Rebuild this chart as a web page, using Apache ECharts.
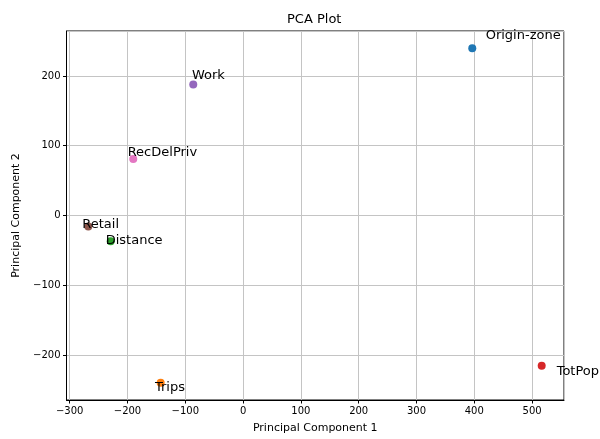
<!DOCTYPE html>
<html>
<head>
<meta charset="utf-8">
<script src="https://cdn.jsdelivr.net/npm/echarts@6/dist/echarts.min.js"></script>
<style>html,body{margin:0;padding:0;background:#fff;}#c{width:600px;height:439px;}</style>
</head>
<body>
<div id="c"></div>
<script>
const names = ['Origin-zone', 'Trips', 'Distance', 'TotPop', 'Work', 'Retail', 'RecDelPriv'];
const pc1 = [396.5, -142.6, -229, 516.6, -86.2, -267.8, -190];
const pc2 = [239.8, -239.5, -36.7, -215.4, 187.6, -15.8, 80.9];
const colors = ['#1f77b4', '#ff7f0e', '#2ca02c', '#d62728', '#9467bd', '#8c564b', '#e377c2'];
const labelOffsets = [[13.4, -6], [-5.7, 11.5], [-5, 6], [15, 12], [-1.3, -2.5], [-6, 5], [-5.6, 0.3]];

const FONT = 'DejaVu Sans';
const fmt = v => (v < 0 ? '\u2212' + Math.abs(v) : String(v));

const data = names.map((n, i) => ({
  name: n,
  value: [pc1[i], pc2[i]],
  itemStyle: { color: colors[i], opacity: 1 },
  label: { offset: labelOffsets[i] }
}));

const axisCommon = {
  type: 'value',
  nameLocation: 'middle',
  nameTextStyle: { fontFamily: FONT, fontSize: 11, color: '#000' },
  axisLine: { show: true, onZero: false, lineStyle: { color: '#000', width: 1 } },
  axisTick: { show: true, inside: false, length: 3.5, lineStyle: { color: '#000', width: 1 } },
  axisLabel: { fontFamily: FONT, fontSize: 10, color: '#000', margin: 6, showMinLabel: false, showMaxLabel: false, formatter: fmt },
  splitLine: { show: true, lineStyle: { color: '#c4c4c4', width: 1 } }
};

const chart = echarts.init(document.getElementById('c'), null, { renderer: 'canvas' });
chart.setOption({
  animation: false,
  backgroundColor: '#fff',
  title: {
    text: 'PCA Plot',
    left: 282, top: 8,
    textStyle: { fontFamily: FONT, fontSize: 13, fontWeight: 'normal', color: '#000' }
  },
  grid: { left: 66.5, right: 36, top: 31, bottom: 36.3, show: true, borderColor: '#000', borderWidth: 1, backgroundColor: 'transparent' },
  xAxis: Object.assign({}, axisCommon, {
    name: 'Principal Component 1', nameGap: 23,
    min: -305.5, max: 555.2, splitNumber: 8
  }),
  yAxis: Object.assign({}, axisCommon, {
    name: 'Principal Component 2', nameGap: 44,
    min: -264.3, max: 264.4, splitNumber: 5
  }),
  series: [{
    type: 'scatter',
    symbol: 'circle',
    symbolSize: 8,
    itemStyle: { opacity: 1 },
    data: data,
    label: {
      show: true,
      position: 'inside',
      align: 'left',
      verticalAlign: 'bottom',
      formatter: p => p.name,
      fontFamily: FONT,
      fontSize: 13,
      color: '#000',
      opacity: 1
    },
    emphasis: { disabled: true }
  }]
});
</script>
</body>
</html>
